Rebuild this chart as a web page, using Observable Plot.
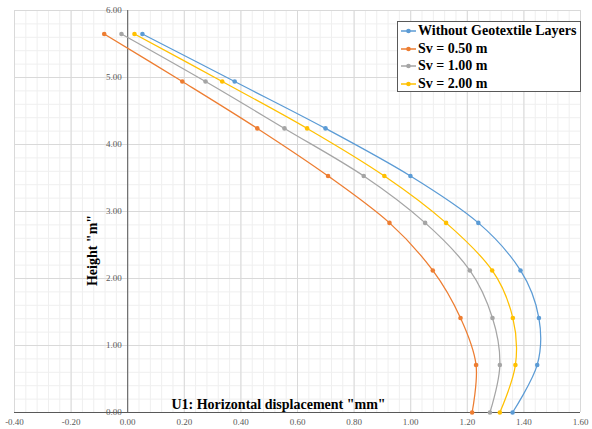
<!DOCTYPE html>
<html>
<head>
<meta charset="utf-8">
<script src="https://cdn.jsdelivr.net/npm/d3@7"></script>
<script src="https://cdn.jsdelivr.net/npm/@observablehq/plot@0.6"></script>
<style>
  html, body { margin: 0; padding: 0; background: #fff; }
  #wrap { position: relative; width: 592px; height: 429px; }
  #legend {
    position: absolute; left: 397px; top: 21px; width: 182px; height: 69px;
    border: 1px solid #595959; background: #fff; box-sizing: content-box;
    font-family: "Liberation Serif", serif; font-weight: bold; font-size: 14px; color: #000;
  }
  .item { position: absolute; left: 0; height: 16px; display: flex; align-items: center; white-space: nowrap; }
  .item svg { margin-left: 3px; margin-right: 2px; }
</style>
</head>
<body>
<div id="wrap">
  <div id="chart"></div>
  <div id="legend"></div>
</div>
<script>
const heights = [0, 0.71, 1.41, 2.12, 2.83, 3.53, 4.24, 4.94, 5.65];
const withoutGeo = [1.360, 1.447, 1.453, 1.388, 1.239, 0.999, 0.699, 0.378, 0.052];
const sv050 = [1.217, 1.231, 1.176, 1.078, 0.925, 0.708, 0.458, 0.193, -0.083];
const sv100 = [1.280, 1.315, 1.289, 1.209, 1.051, 0.834, 0.554, 0.275, -0.022];
const sv200 = [1.315, 1.370, 1.361, 1.288, 1.125, 0.907, 0.634, 0.334, 0.024];

const seriesNames = ["Without Geotextile Layers", "Sv = 0.50 m", "Sv = 1.00 m", "Sv = 2.00 m"];
const seriesColors = ["#5B9BD5", "#ED7D31", "#A5A5A5", "#FFC000"];
const seriesValues = [withoutGeo, sv050, sv100, sv200];

const xTicks = [-0.4, -0.2, 0, 0.2, 0.4, 0.6, 0.8, 1.0, 1.2, 1.4, 1.6];
const yTicks = [0, 1, 2, 3, 4, 5, 6];
const xMinor = d3.range(0, 51).map(i => -0.4 + i * 0.04);
const yMinor = d3.range(0, 31).map(i => i * 0.2);

const xTitle = 'U1: Horizontal displacement "mm"';
const yTitle = 'Height "m"';

const rows = [];
seriesValues.forEach((vals, s) => {
  vals.forEach((v, i) => rows.push({series: seriesNames[s], x: v, y: heights[i]}));
});

const chart = Plot.plot({
  width: 592,
  height: 429,
  marginLeft: 14,
  marginRight: 12,
  marginTop: 10,
  marginBottom: 17,
  style: {fontFamily: "Liberation Serif, serif", fontSize: "9px", color: "#595959", background: "#fff"},
  x: {domain: [-0.4, 1.6], axis: null, label: null},
  y: {domain: [0, 6], axis: null, label: null},
  color: {domain: seriesNames, range: seriesColors},
  marks: [
    Plot.ruleX(xMinor, {stroke: "#efefef", strokeWidth: 1}),
    Plot.ruleY(yMinor, {stroke: "#efefef", strokeWidth: 1}),
    Plot.ruleX(xTicks, {stroke: "#d9d9d9", strokeWidth: 1}),
    Plot.ruleY(yTicks, {stroke: "#d9d9d9", strokeWidth: 1}),
    Plot.ruleX([0], {stroke: "#595959", strokeWidth: 1}),
    Plot.ruleY([0], {stroke: "#595959", strokeWidth: 1}),
    Plot.axisX(xTicks, {tickSize: 0, tickPadding: 6, label: null, tickFormat: d => d.toFixed(2), fill: "#595959", fontSize: 9}),
    Plot.text(yTicks, {x: () => 0, y: d => d, text: d => d.toFixed(2), textAnchor: "end", dx: -6, fill: "#595959", fontSize: 9}),
    Plot.line(rows, {x: "x", y: "y", z: "series", stroke: "series", strokeWidth: 1.25, curve: "cardinal", tension: 0}),
    Plot.dot(rows, {x: "x", y: "y", fill: "series", r: 2.3}),
    Plot.text([xTitle], {frameAnchor: "bottom", text: d => d, textAnchor: "middle", lineAnchor: "middle", dx: -19, dy: -8, fontWeight: "bold", fontSize: 14, fill: "#000"}),
    Plot.text([yTitle], {frameAnchor: "left", text: d => d, textAnchor: "middle", lineAnchor: "middle", rotate: -90, dx: 78, dy: 39, fontWeight: "bold", fontSize: 14, fill: "#000"})
  ]
});
document.getElementById("chart").appendChild(chart);

const legend = document.getElementById("legend");
seriesNames.forEach((name, i) => {
  const item = document.createElement("div");
  item.className = "item";
  item.style.top = (1 + i * 17.7) + "px";
  item.innerHTML = `<svg width="15" height="8"><line x1="0" x2="15" y1="4" y2="4" stroke="${seriesColors[i]}" stroke-width="1.5"/><circle cx="7.5" cy="4" r="2.3" fill="${seriesColors[i]}"/></svg><span>${name}</span>`;
  legend.appendChild(item);
});
</script>
</body>
</html>
